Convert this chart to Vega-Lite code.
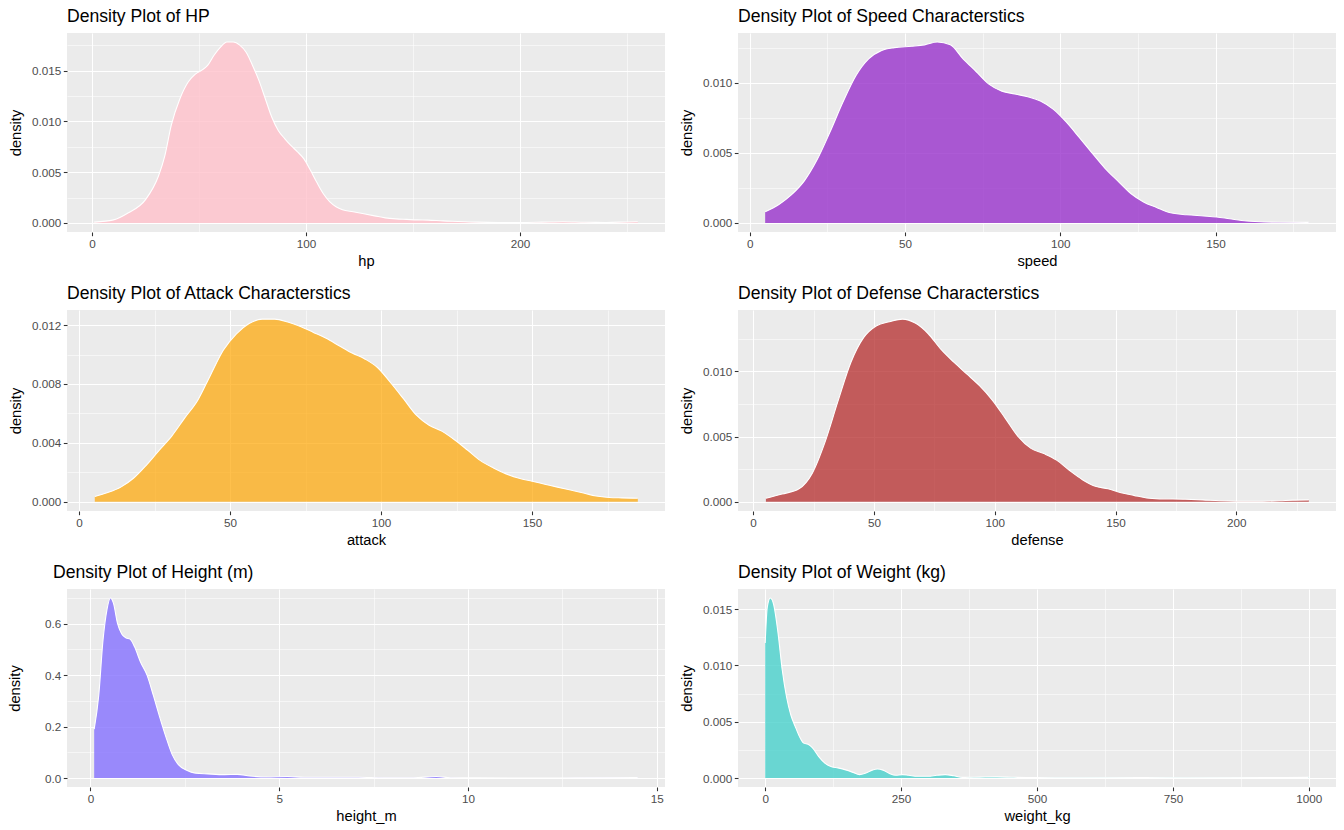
{
  "$schema": "https://vega.github.io/schema/vega-lite/v6.json",
  "background": "white",
  "padding": {"left": 7, "top": 8, "right": 0, "bottom": 0},
  "spacing": 16,
  "config": {
    "view": {"fill": "#EBEBEB", "stroke": null},
    "font": "Liberation Sans",
    "axis": {
      "domain": false,
      "tickColor": "#333333",
      "tickSize": 3.7,
      "tickWidth": 1.07,
      "labelColor": "#4D4D4D",
      "labelFontSize": 11.7,
      "labelFont": "Liberation Sans",
      "labelPadding": 2.5,
      "titleFont": "Liberation Sans",
      "titleFontSize": 14.7,
      "titleFontWeight": "normal",
      "titleColor": "#000000",
      "gridColor": "#FFFFFF",
      "labelOverlap": false,
      "labelFlush": false
    },
    "axisX": {"titlePadding": 3.5},
    "axisY": {"titlePadding": 8},
    "title": {"fontSize": 17.6, "font": "Liberation Sans", "fontWeight": "normal", "anchor": "start", "frame": "group", "color": "#000000", "offset": 7}
  },
  "datasets": {
    "hp": [
      {"hp": 1, "density": 0.00008}, {"hp": 10, "density": 0.0003}, {"hp": 17, "density": 0.001}, {"hp": 25, "density": 0.0023},
      {"hp": 31, "density": 0.0046}, {"hp": 34, "density": 0.0066}, {"hp": 37, "density": 0.0096}, {"hp": 41, "density": 0.0122},
      {"hp": 45, "density": 0.0139}, {"hp": 48, "density": 0.0146}, {"hp": 51, "density": 0.015}, {"hp": 54, "density": 0.0155},
      {"hp": 57, "density": 0.0165}, {"hp": 60, "density": 0.0173}, {"hp": 63, "density": 0.0178}, {"hp": 66, "density": 0.0178},
      {"hp": 69, "density": 0.0175}, {"hp": 72, "density": 0.0168}, {"hp": 75, "density": 0.0155}, {"hp": 78, "density": 0.014},
      {"hp": 81, "density": 0.0122}, {"hp": 84, "density": 0.0104}, {"hp": 87, "density": 0.0091}, {"hp": 90, "density": 0.0083},
      {"hp": 93, "density": 0.0076}, {"hp": 96, "density": 0.007}, {"hp": 99, "density": 0.0063}, {"hp": 102, "density": 0.0052},
      {"hp": 105, "density": 0.004}, {"hp": 108, "density": 0.0029}, {"hp": 111, "density": 0.0021}, {"hp": 114, "density": 0.0016},
      {"hp": 117, "density": 0.0013}, {"hp": 122, "density": 0.0011}, {"hp": 127, "density": 0.0009}, {"hp": 132, "density": 0.0007},
      {"hp": 137, "density": 0.0005}, {"hp": 142, "density": 0.0004}, {"hp": 147, "density": 0.00035}, {"hp": 152, "density": 0.0003},
      {"hp": 157, "density": 0.00028}, {"hp": 164, "density": 0.0002}, {"hp": 171, "density": 0.00015}, {"hp": 180, "density": 0.00008},
      {"hp": 190, "density": 0.00005}, {"hp": 200, "density": 0.00005}, {"hp": 210, "density": 0.00008}, {"hp": 220, "density": 0.00012},
      {"hp": 230, "density": 0.00007}, {"hp": 240, "density": 0.00005}, {"hp": 250, "density": 0.0001}, {"hp": 255, "density": 0.00012}
    ],
    "speed": [
      {"speed": 5, "density": 0.0008}, {"speed": 9.3, "density": 0.0013}, {"speed": 13.4, "density": 0.002}, {"speed": 17.6, "density": 0.003},
      {"speed": 21.7, "density": 0.0045}, {"speed": 25.9, "density": 0.0065}, {"speed": 30, "density": 0.0086}, {"speed": 34.2, "density": 0.0105},
      {"speed": 38.3, "density": 0.0117}, {"speed": 42.5, "density": 0.0123}, {"speed": 46.6, "density": 0.0125}, {"speed": 52.1, "density": 0.0126},
      {"speed": 56.3, "density": 0.0127}, {"speed": 60.4, "density": 0.0129}, {"speed": 64.6, "density": 0.0127}, {"speed": 68.7, "density": 0.0117},
      {"speed": 72.9, "density": 0.0108}, {"speed": 77, "density": 0.0099}, {"speed": 81.2, "density": 0.0094}, {"speed": 85.3, "density": 0.0092},
      {"speed": 89.5, "density": 0.009}, {"speed": 93.6, "density": 0.0087}, {"speed": 97.8, "density": 0.0081}, {"speed": 101.9, "density": 0.0072},
      {"speed": 106.1, "density": 0.0061}, {"speed": 110.2, "density": 0.005}, {"speed": 114.4, "density": 0.0039}, {"speed": 118.5, "density": 0.003},
      {"speed": 122.7, "density": 0.0021}, {"speed": 126.8, "density": 0.0015}, {"speed": 131, "density": 0.0011}, {"speed": 135.1, "density": 0.00074},
      {"speed": 140.7, "density": 0.00058}, {"speed": 146.2, "density": 0.0005}, {"speed": 150.3, "density": 0.00043}, {"speed": 154.5, "density": 0.0003},
      {"speed": 160, "density": 0.00014}, {"speed": 165.6, "density": 0.00007}, {"speed": 172.5, "density": 0.00005}, {"speed": 180, "density": 0.00004}
    ],
    "attack": [
      {"attack": 5.2, "density": 0.00036}, {"attack": 9.5, "density": 0.00063}, {"attack": 13.8, "density": 0.001}, {"attack": 18, "density": 0.0016},
      {"attack": 22.3, "density": 0.0025}, {"attack": 26.5, "density": 0.0035}, {"attack": 30.8, "density": 0.0045}, {"attack": 35, "density": 0.0057},
      {"attack": 39.3, "density": 0.0069}, {"attack": 43.5, "density": 0.0086}, {"attack": 47.8, "density": 0.0103}, {"attack": 52.1, "density": 0.0114},
      {"attack": 56.3, "density": 0.0121}, {"attack": 60.6, "density": 0.0124}, {"attack": 64.8, "density": 0.0124}, {"attack": 69.1, "density": 0.0122},
      {"attack": 73.3, "density": 0.0119}, {"attack": 77.6, "density": 0.0115}, {"attack": 81.8, "density": 0.0111}, {"attack": 86.1, "density": 0.0106},
      {"attack": 90.4, "density": 0.0101}, {"attack": 94.6, "density": 0.0097}, {"attack": 98.9, "density": 0.0091}, {"attack": 103.1, "density": 0.0081},
      {"attack": 107.4, "density": 0.007}, {"attack": 111.6, "density": 0.0059}, {"attack": 115.9, "density": 0.0052}, {"attack": 120.1, "density": 0.0048},
      {"attack": 124.4, "density": 0.0042}, {"attack": 128.7, "density": 0.0035}, {"attack": 132.9, "density": 0.0028}, {"attack": 137.2, "density": 0.0023},
      {"attack": 141.4, "density": 0.0019}, {"attack": 145.7, "density": 0.0016}, {"attack": 150, "density": 0.0014}, {"attack": 154.2, "density": 0.0012},
      {"attack": 158.4, "density": 0.001}, {"attack": 162.7, "density": 0.0008}, {"attack": 167, "density": 0.0006}, {"attack": 171.2, "density": 0.0004},
      {"attack": 175.5, "density": 0.0003}, {"attack": 179.7, "density": 0.00027}, {"attack": 185, "density": 0.00025}
    ],
    "defense": [
      {"defense": 5.3, "density": 0.00028}, {"defense": 12, "density": 0.0006}, {"defense": 19, "density": 0.001}, {"defense": 24.5, "density": 0.0022},
      {"defense": 29.8, "density": 0.0046}, {"defense": 35.1, "density": 0.0077}, {"defense": 40.5, "density": 0.0107}, {"defense": 45.8, "density": 0.0126},
      {"defense": 51.1, "density": 0.0135}, {"defense": 56.4, "density": 0.0138}, {"defense": 61.8, "density": 0.014}, {"defense": 67.1, "density": 0.0137},
      {"defense": 72.4, "density": 0.0129}, {"defense": 77.7, "density": 0.0117}, {"defense": 83.1, "density": 0.0107}, {"defense": 88.4, "density": 0.0098},
      {"defense": 93.7, "density": 0.0089}, {"defense": 99, "density": 0.0078}, {"defense": 104.4, "density": 0.0064}, {"defense": 109.7, "density": 0.005},
      {"defense": 115, "density": 0.0041}, {"defense": 120.3, "density": 0.0037}, {"defense": 125.6, "density": 0.0032}, {"defense": 131, "density": 0.0024},
      {"defense": 136.3, "density": 0.0017}, {"defense": 141.6, "density": 0.0012}, {"defense": 146.9, "density": 0.001}, {"defense": 152.3, "density": 0.0007},
      {"defense": 157.6, "density": 0.0005}, {"defense": 162.9, "density": 0.0003}, {"defense": 168.2, "density": 0.00023}, {"defense": 178.9, "density": 0.0002},
      {"defense": 186, "density": 0.00015}, {"defense": 193.1, "density": 0.00008}, {"defense": 200.2, "density": 0.00005}, {"defense": 210.8, "density": 0.00005},
      {"defense": 217.9, "density": 0.00008}, {"defense": 223.2, "density": 0.00013}, {"defense": 230, "density": 0.00015}
    ],
    "height": [
      {"height_m": 0.1, "density": 0.19}, {"height_m": 0.22, "density": 0.32}, {"height_m": 0.33, "density": 0.53}, {"height_m": 0.44, "density": 0.656},
      {"height_m": 0.53, "density": 0.7}, {"height_m": 0.61, "density": 0.68}, {"height_m": 0.72, "density": 0.6}, {"height_m": 0.83, "density": 0.56},
      {"height_m": 0.94, "density": 0.545}, {"height_m": 1.05, "density": 0.54}, {"height_m": 1.17, "density": 0.51}, {"height_m": 1.33, "density": 0.45},
      {"height_m": 1.5, "density": 0.4}, {"height_m": 1.67, "density": 0.32}, {"height_m": 1.83, "density": 0.24}, {"height_m": 2.0, "density": 0.16},
      {"height_m": 2.17, "density": 0.09}, {"height_m": 2.33, "density": 0.052}, {"height_m": 2.55, "density": 0.03}, {"height_m": 2.78, "density": 0.019},
      {"height_m": 3.11, "density": 0.016}, {"height_m": 3.55, "density": 0.013}, {"height_m": 3.89, "density": 0.014}, {"height_m": 4.22, "density": 0.008},
      {"height_m": 4.66, "density": 0.004}, {"height_m": 5.22, "density": 0.006}, {"height_m": 5.66, "density": 0.003}, {"height_m": 6.33, "density": 0.003},
      {"height_m": 7.1, "density": 0.003}, {"height_m": 7.77, "density": 0.001}, {"height_m": 8.55, "density": 0.001}, {"height_m": 9.16, "density": 0.006},
      {"height_m": 9.55, "density": 0.001}, {"height_m": 10.2, "density": 0.0003}, {"height_m": 12.4, "density": 0.0002}, {"height_m": 14.5, "density": 0.002}
    ],
    "weight": [
      {"weight_kg": 0.1, "density": 0.012}, {"weight_kg": 4, "density": 0.0152}, {"weight_kg": 9.5, "density": 0.016}, {"weight_kg": 15.8, "density": 0.0154},
      {"weight_kg": 23.7, "density": 0.0129}, {"weight_kg": 31.5, "density": 0.0096}, {"weight_kg": 39.4, "density": 0.0072}, {"weight_kg": 47.3, "density": 0.0056},
      {"weight_kg": 55.2, "density": 0.0046}, {"weight_kg": 63, "density": 0.0037}, {"weight_kg": 71, "density": 0.0031}, {"weight_kg": 78.9, "density": 0.003},
      {"weight_kg": 86.8, "density": 0.0027}, {"weight_kg": 98.6, "density": 0.0019}, {"weight_kg": 110.4, "density": 0.0013}, {"weight_kg": 122.2, "density": 0.001},
      {"weight_kg": 134, "density": 0.0009}, {"weight_kg": 149.8, "density": 0.0007}, {"weight_kg": 161.7, "density": 0.0005}, {"weight_kg": 173.5, "density": 0.0003},
      {"weight_kg": 185.3, "density": 0.00044}, {"weight_kg": 197.2, "density": 0.0007}, {"weight_kg": 206.6, "density": 0.0008}, {"weight_kg": 216.9, "density": 0.0007},
      {"weight_kg": 228.7, "density": 0.0004}, {"weight_kg": 240.5, "density": 0.00024}, {"weight_kg": 252.4, "density": 0.0003}, {"weight_kg": 264.2, "density": 0.00024},
      {"weight_kg": 280, "density": 0.00015}, {"weight_kg": 299.7, "density": 0.00015}, {"weight_kg": 315.5, "density": 0.00024}, {"weight_kg": 331.2, "density": 0.0003},
      {"weight_kg": 347, "density": 0.0002}, {"weight_kg": 362.8, "density": 0.00006}, {"weight_kg": 394.3, "density": 0.00008}, {"weight_kg": 425.9, "density": 0.0001},
      {"weight_kg": 457.4, "density": 0.00006}, {"weight_kg": 496.8, "density": 0.00003}, {"weight_kg": 575.7, "density": 0.00002}, {"weight_kg": 694, "density": 0.00004},
      {"weight_kg": 773, "density": 0.00002}, {"weight_kg": 930.6, "density": 0.00003}, {"weight_kg": 999.9, "density": 0.00006}
    ]
  },
  "vconcat": [
    {
      "spacing": 14,
      "hconcat": [
        {
          "width": 598, "height": 199,
          "title": "Density Plot of HP",
          "data": {"name": "hp"},
          "mark": {"type": "area", "interpolate": "monotone", "fill": "#FFC0CB", "fillOpacity": 0.8, "line": {"color": "white", "strokeWidth": 1.1}},
          "encoding": {
            "x": {"field": "hp", "type": "quantitative", "title": "hp",
              "scale": {"domain": [-11.7, 267.7], "nice": false, "zero": false},
              "axis": {"values": [0, 50, 100, 150, 200, 250], "format": "d",
                "labelExpr": "indexof([0,100,200], datum.value) >= 0 ? datum.label : ''",
                "gridWidth": {"condition": {"test": "indexof([0,100,200], datum.value) >= 0", "value": 1.1}, "value": 0.55},
                "tickOpacity": {"condition": {"test": "indexof([0,100,200], datum.value) >= 0", "value": 1}, "value": 0}}},
            "y": {"field": "density", "type": "quantitative", "title": "density",
              "scale": {"domain": [-0.00089, 0.01869], "nice": false, "zero": false},
              "axis": {"values": [0, 0.0025, 0.005, 0.0075, 0.01, 0.0125, 0.015, 0.0175], "format": ".3f",
                "labelExpr": "indexof([0,0.005,0.01,0.015], datum.value) >= 0 ? datum.label : ''",
                "gridWidth": {"condition": {"test": "indexof([0,0.005,0.01,0.015], datum.value) >= 0", "value": 1.1}, "value": 0.55},
                "tickOpacity": {"condition": {"test": "indexof([0,0.005,0.01,0.015], datum.value) >= 0", "value": 1}, "value": 0}}},
            "y2": {"datum": 0}
          }
        },
        {
          "width": 598, "height": 199,
          "title": "Density Plot of Speed Characterstics",
          "data": {"name": "speed"},
          "mark": {"type": "area", "interpolate": "monotone", "fill": "#9932CC", "fillOpacity": 0.8, "line": {"color": "white", "strokeWidth": 1.1}},
          "encoding": {
            "x": {"field": "speed", "type": "quantitative", "title": "speed",
              "scale": {"domain": [-3.75, 188.75], "nice": false, "zero": false},
              "axis": {"values": [0, 25, 50, 75, 100, 125, 150, 175], "format": "d",
                "labelExpr": "indexof([0,50,100,150], datum.value) >= 0 ? datum.label : ''",
                "gridWidth": {"condition": {"test": "indexof([0,50,100,150], datum.value) >= 0", "value": 1.1}, "value": 0.55},
                "tickOpacity": {"condition": {"test": "indexof([0,50,100,150], datum.value) >= 0", "value": 1}, "value": 0}}},
            "y": {"field": "density", "type": "quantitative", "title": "density",
              "scale": {"domain": [-0.000645, 0.013545], "nice": false, "zero": false},
              "axis": {"values": [0, 0.0025, 0.005, 0.0075, 0.01, 0.0125], "format": ".3f",
                "labelExpr": "indexof([0,0.005,0.01], datum.value) >= 0 ? datum.label : ''",
                "gridWidth": {"condition": {"test": "indexof([0,0.005,0.01], datum.value) >= 0", "value": 1.1}, "value": 0.55},
                "tickOpacity": {"condition": {"test": "indexof([0,0.005,0.01], datum.value) >= 0", "value": 1}, "value": 0}}},
            "y2": {"datum": 0}
          }
        }
      ]
    },
    {
      "spacing": 14,
      "hconcat": [
        {
          "width": 598, "height": 201,
          "title": "Density Plot of Attack Characterstics",
          "data": {"name": "attack"},
          "mark": {"type": "area", "interpolate": "monotone", "fill": "#FFA500", "fillOpacity": 0.7, "line": {"color": "white", "strokeWidth": 1.1}},
          "encoding": {
            "x": {"field": "attack", "type": "quantitative", "title": "attack",
              "scale": {"domain": [-4, 194], "nice": false, "zero": false},
              "axis": {"values": [0, 25, 50, 75, 100, 125, 150, 175], "format": "d",
                "labelExpr": "indexof([0,50,100,150], datum.value) >= 0 ? datum.label : ''",
                "gridWidth": {"condition": {"test": "indexof([0,50,100,150], datum.value) >= 0", "value": 1.1}, "value": 0.55},
                "tickOpacity": {"condition": {"test": "indexof([0,50,100,150], datum.value) >= 0", "value": 1}, "value": 0}}},
            "y": {"field": "density", "type": "quantitative", "title": "density",
              "scale": {"domain": [-0.00062, 0.01302], "nice": false, "zero": false},
              "axis": {"values": [0, 0.002, 0.004, 0.006, 0.008, 0.01, 0.012], "format": ".3f",
                "labelExpr": "indexof([0,0.004,0.008,0.012], datum.value) >= 0 ? datum.label : ''",
                "gridWidth": {"condition": {"test": "indexof([0,0.004,0.008,0.012], datum.value) >= 0", "value": 1.1}, "value": 0.55},
                "tickOpacity": {"condition": {"test": "indexof([0,0.004,0.008,0.012], datum.value) >= 0", "value": 1}, "value": 0}}},
            "y2": {"datum": 0}
          }
        },
        {
          "width": 598, "height": 201,
          "title": "Density Plot of Defense Characterstics",
          "data": {"name": "defense"},
          "mark": {"type": "area", "interpolate": "monotone", "fill": "#B22222", "fillOpacity": 0.72, "line": {"color": "white", "strokeWidth": 1.1}},
          "encoding": {
            "x": {"field": "defense", "type": "quantitative", "title": "defense",
              "scale": {"domain": [-6.25, 241.25], "nice": false, "zero": false},
              "axis": {"values": [0, 25, 50, 75, 100, 125, 150, 175, 200, 225], "format": "d",
                "labelExpr": "indexof([0,50,100,150,200], datum.value) >= 0 ? datum.label : ''",
                "gridWidth": {"condition": {"test": "indexof([0,50,100,150,200], datum.value) >= 0", "value": 1.1}, "value": 0.55},
                "tickOpacity": {"condition": {"test": "indexof([0,50,100,150,200], datum.value) >= 0", "value": 1}, "value": 0}}},
            "y": {"field": "density", "type": "quantitative", "title": "density",
              "scale": {"domain": [-0.0007, 0.0147], "nice": false, "zero": false},
              "axis": {"values": [0, 0.0025, 0.005, 0.0075, 0.01, 0.0125], "format": ".3f",
                "labelExpr": "indexof([0,0.005,0.01], datum.value) >= 0 ? datum.label : ''",
                "gridWidth": {"condition": {"test": "indexof([0,0.005,0.01], datum.value) >= 0", "value": 1.1}, "value": 0.55},
                "tickOpacity": {"condition": {"test": "indexof([0,0.005,0.01], datum.value) >= 0", "value": 1}, "value": 0}}},
            "y2": {"datum": 0}
          }
        }
      ]
    },
    {
      "spacing": 14,
      "hconcat": [
        {
          "width": 598, "height": 198,
          "title": {"text": "Density Plot of Height (m)", "dx": -14},
          "data": {"name": "height"},
          "mark": {"type": "area", "interpolate": "monotone", "fill": "#8470FF", "fillOpacity": 0.8, "line": {"color": "white", "strokeWidth": 1.1}},
          "encoding": {
            "x": {"field": "height_m", "type": "quantitative", "title": "height_m",
              "scale": {"domain": [-0.62, 15.22], "nice": false, "zero": false},
              "axis": {"values": [0, 2.5, 5, 7.5, 10, 12.5, 15], "format": "d",
                "labelExpr": "indexof([0,5,10,15], datum.value) >= 0 ? datum.label : ''",
                "gridWidth": {"condition": {"test": "indexof([0,5,10,15], datum.value) >= 0", "value": 1.1}, "value": 0.55},
                "tickOpacity": {"condition": {"test": "indexof([0,5,10,15], datum.value) >= 0", "value": 1}, "value": 0}}},
            "y": {"field": "density", "type": "quantitative", "title": "density",
              "scale": {"domain": [-0.035, 0.735], "nice": false, "zero": false},
              "axis": {"values": [0, 0.1, 0.2, 0.3, 0.4, 0.5, 0.6, 0.7], "format": ".1f", "titlePadding": 22,
                "labelExpr": "indexof([0,0.2,0.4,0.6], datum.value) >= 0 ? datum.label : ''",
                "gridWidth": {"condition": {"test": "indexof([0,0.2,0.4,0.6], datum.value) >= 0", "value": 1.1}, "value": 0.55},
                "tickOpacity": {"condition": {"test": "indexof([0,0.2,0.4,0.6], datum.value) >= 0", "value": 1}, "value": 0}}},
            "y2": {"datum": 0}
          }
        },
        {
          "width": 598, "height": 198,
          "title": "Density Plot of Weight (kg)",
          "data": {"name": "weight"},
          "mark": {"type": "area", "interpolate": "monotone", "fill": "#48D1CC", "fillOpacity": 0.8, "line": {"color": "white", "strokeWidth": 1.1}},
          "encoding": {
            "x": {"field": "weight_kg", "type": "quantitative", "title": "weight_kg",
              "scale": {"domain": [-49.9, 1049.9], "nice": false, "zero": false},
              "axis": {"values": [0, 125, 250, 375, 500, 625, 750, 875, 1000], "format": "d",
                "labelExpr": "indexof([0,250,500,750,1000], datum.value) >= 0 ? datum.label : ''",
                "gridWidth": {"condition": {"test": "indexof([0,250,500,750,1000], datum.value) >= 0", "value": 1.1}, "value": 0.55},
                "tickOpacity": {"condition": {"test": "indexof([0,250,500,750,1000], datum.value) >= 0", "value": 1}, "value": 0}}},
            "y": {"field": "density", "type": "quantitative", "title": "density",
              "scale": {"domain": [-0.0008, 0.0168], "nice": false, "zero": false},
              "axis": {"values": [0, 0.0025, 0.005, 0.0075, 0.01, 0.0125, 0.015], "format": ".3f",
                "labelExpr": "indexof([0,0.005,0.01,0.015], datum.value) >= 0 ? datum.label : ''",
                "gridWidth": {"condition": {"test": "indexof([0,0.005,0.01,0.015], datum.value) >= 0", "value": 1.1}, "value": 0.55},
                "tickOpacity": {"condition": {"test": "indexof([0,0.005,0.01,0.015], datum.value) >= 0", "value": 1}, "value": 0}}},
            "y2": {"datum": 0}
          }
        }
      ]
    }
  ]
}
